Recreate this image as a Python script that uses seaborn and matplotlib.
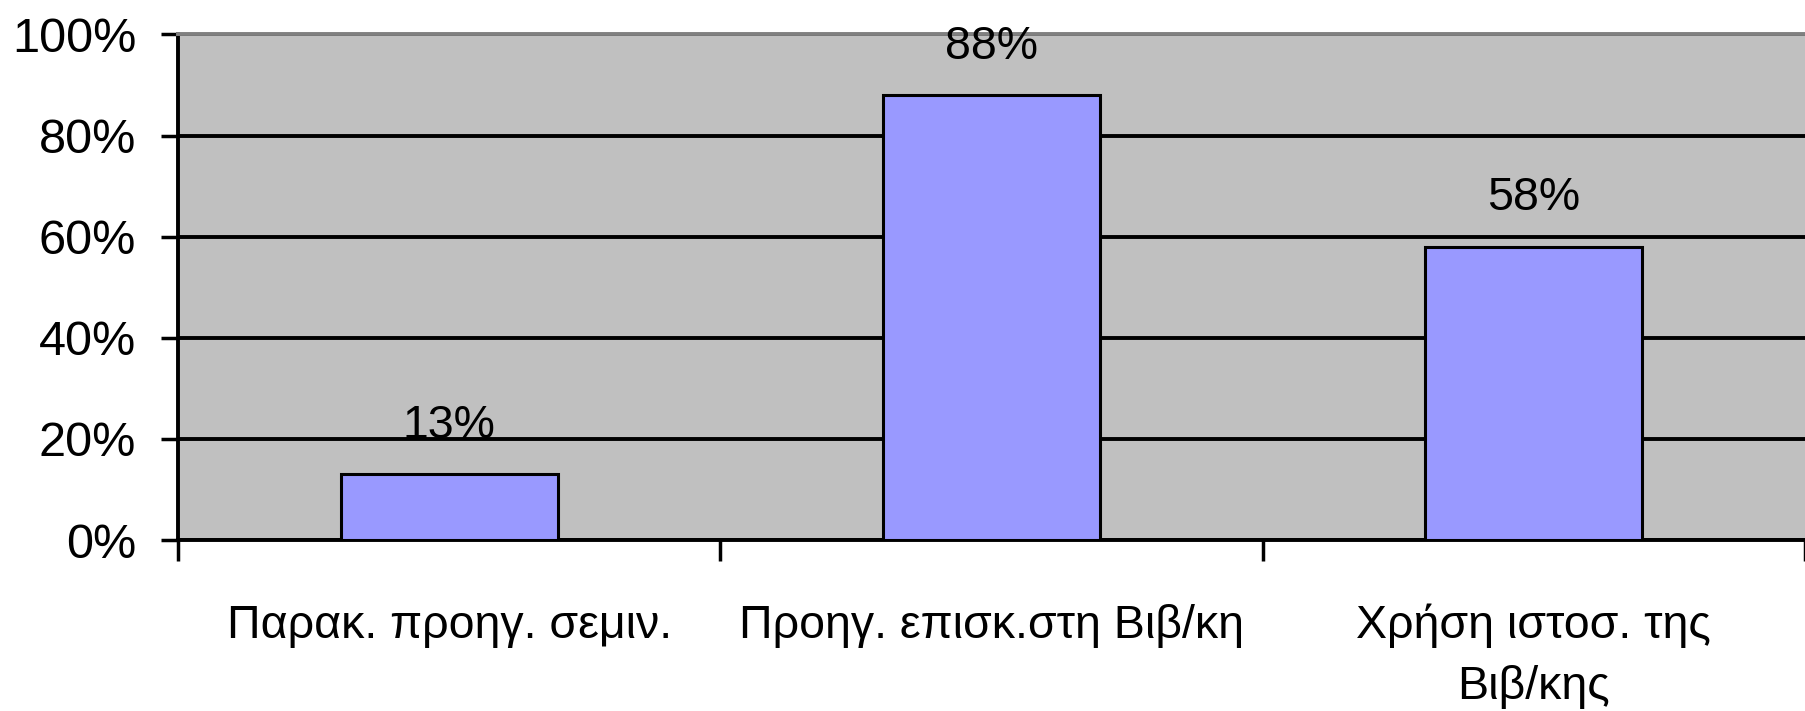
import matplotlib
matplotlib.use("Agg")
import matplotlib.pyplot as plt
import seaborn as sns
import pandas as pd
from matplotlib.ticker import FixedLocator, PercentFormatter

# data
categories = ["Παρακ. προηγ. σεμιν.", "Προηγ. επισκ.στη Βιβ/κη", "Χρήση ιστοσ. της\nΒιβ/κης"]
values = [13, 88, 58]
y_ticks = [0, 20, 40, 60, 80, 100]

df = pd.DataFrame({"cat": categories, "pct": values})

sns.set_style("white")
plt.rcParams['font.family'] = ['Liberation Sans', 'DejaVu Sans']
plt.rcParams['text.color'] = 'black'
plt.rcParams['xtick.color'] = 'black'
plt.rcParams['ytick.color'] = 'black'

fig = plt.figure(figsize=(18.05, 7.11), dpi=100)
ax = fig.add_axes([0.0986, 0.2405, 0.9014, 0.711])

sns.barplot(data=df, x="cat", y="pct", color="#9999FF", saturation=1,
            width=0.4, edgecolor="black", linewidth=2.2, ax=ax, zorder=3)

ax.set_facecolor("#C0C0C0")
ax.set_ylim(0, 100)
ax.set_xlim(-0.5, 2.5)
ax.set_yticks(y_ticks)
ax.yaxis.set_major_formatter(PercentFormatter(decimals=0))
ax.grid(axis="y", color="black", linewidth=2.8, zorder=1)
ax.set_axisbelow(True)

# category separators as minor ticks
ax.xaxis.set_minor_locator(FixedLocator([-0.5, 0.5, 1.5, 2.5]))
ax.tick_params(axis="x", which="major", bottom=True, length=0, pad=46, labelsize=33.5)
ax.tick_params(axis="x", which="minor", bottom=True, length=15, width=2.5, direction="out")
ax.tick_params(axis="y", left=True, length=12, width=2.5, direction="out", pad=18, labelsize=35)
for lbl in ax.get_xticklabels():
    lbl.set_linespacing(1.5)

ax.set_xlabel("")
ax.set_ylabel("")

for side in ["left", "bottom"]:
    ax.spines[side].set_color("black")
    ax.spines[side].set_linewidth(2.8)
ax.spines["top"].set_color("#808080")
ax.spines["top"].set_linewidth(2.8)
ax.spines["right"].set_visible(False)

ax.bar_label(ax.containers[0], labels=[f"{v}%" for v in values],
             padding=19, fontsize=33.5, color="black")

fig.savefig("out.png", dpi=100)
